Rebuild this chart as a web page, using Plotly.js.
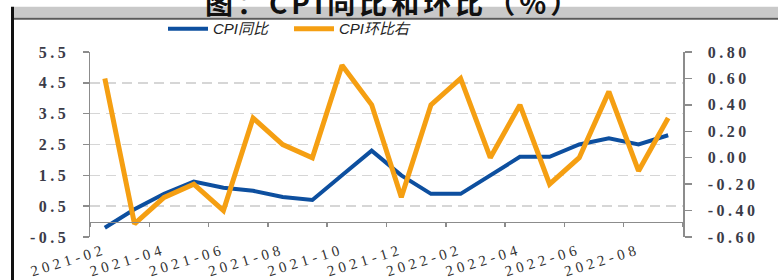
<!DOCTYPE html>
<html>
<head>
<meta charset="utf-8">
<script src="https://cdn.plot.ly/plotly-3.0.1.min.js"></script>
<style>
  html, body { margin: 0; padding: 0; background: #fff; }
  #chart { width: 778px; height: 280px; }
  .xtick text { letter-spacing: 4px; }
  .ytick text, .y2tick text { letter-spacing: 3.5px; }
  .annotation-text { letter-spacing: 4px; }
</style>
</head>
<body>
<div id="chart"></div>
<script>
const months = ['2021-02','2021-03','2021-04','2021-05','2021-06','2021-07','2021-08','2021-09','2021-10','2021-11','2021-12',
                '2022-01','2022-02','2022-03','2022-04','2022-05','2022-06','2022-07','2022-08','2022-09'];
const cpiYoY = [-0.2,0.4,0.9,1.3,1.1,1.0,0.8,0.7,1.5,2.3,1.5,0.9,0.9,1.5,2.1,2.1,2.5,2.7,2.5,2.8];
const cpiMoM = [0.6,-0.5,-0.3,-0.2,-0.4,0.3,0.1,0.0,0.7,0.4,-0.3,0.4,0.6,0.0,0.4,-0.2,0.0,0.5,-0.1,0.3];
const leftTickVals = [-0.5,0.5,1.5,2.5,3.5,4.5,5.5];
const leftTickText = ['-0.5','0.5','1.5','2.5','3.5','4.5','5.5'];
const rightTickVals = [-0.6,-0.4,-0.2,0.0,0.2,0.4,0.6,0.8];
const rightTickText = ['-0.60','-0.40','-0.20','0.00','0.20','0.40','0.60','0.80'];
const seriesNames = ['CPI同比','CPI环比右'];
const titleText = '图：CPI同比和环比（%）';

const leftMin = leftTickVals[0], leftMax = leftTickVals[leftTickVals.length-1];
const rightMin = rightTickVals[0], rightMax = rightTickVals[rightTickVals.length-1];
const catRange = [-0.5, months.length - 0.5];

const W = 778, H = 280, ML = 90, MR = 95, MT = 45, MB = 43;
const pw = W - ML - MR, ph = H - MT - MB;
const px = x => (x - ML) / pw;           // pixel x -> paper
const py = y => (H - MB - y) / ph;       // pixel y -> paper

const axisGrey = '#8c8c8c';
const tickFont = {family: 'Liberation Serif, serif', size: 16, color: '#3b3b48', weight: 'bold'};

const traces = [
  {x: months, y: cpiYoY, name: seriesNames[0], type: 'scatter', mode: 'lines',
   line: {color: '#0d4f9f', width: 4}, xaxis: 'x', yaxis: 'y'},
  {x: months, y: cpiMoM, name: seriesNames[1], type: 'scatter', mode: 'lines',
   line: {color: '#f59f12', width: 5}, xaxis: 'x2', yaxis: 'y2'}
];

const layout = {
  width: W, height: H,
  margin: {l: ML, r: MR, t: MT, b: MB, pad: 0},
  paper_bgcolor: '#ffffff', plot_bgcolor: '#ffffff',
  showlegend: true,
  legend: {orientation: 'h', x: px(163), xanchor: 'left', y: py(21), yanchor: 'middle',
           font: {family: 'Liberation Sans, Noto Sans CJK SC, sans-serif', size: 15, color: '#222', style: 'italic'},
           entrywidth: 71, itemwidth: 40, bgcolor: 'rgba(0,0,0,0)'},
  xaxis: {type: 'category', range: catRange, tickmode: 'linear', tick0: 0, dtick: 2, tickangle: -17,
          showline: false, ticks: '', showgrid: false, zeroline: false,
          ticklabelstandoff: 1,
          tickfont: {family: 'Liberation Serif, serif', size: 15, color: '#333'}},
  xaxis2: {type: 'category', range: catRange, overlaying: 'x', anchor: 'free', position: (0 - leftMin) / (leftMax - leftMin),
           side: 'bottom', tickmode: 'linear', tick0: 0, dtick: 2, tickson: 'boundaries',
           showticklabels: false, ticks: 'outside', ticklen: 4, tickwidth: 1.5, tickcolor: axisGrey,
           showline: true, linecolor: axisGrey, linewidth: 1.5, showgrid: false, zeroline: false},
  yaxis: {range: [leftMin, leftMax], tickmode: 'array', tickvals: leftTickVals, ticktext: leftTickText,
          showline: true, linecolor: axisGrey, linewidth: 1.5, ticks: 'outside', ticklen: 6, tickwidth: 1.5,
          tickcolor: axisGrey, showgrid: true, gridcolor: '#d6d6d6', gridwidth: 1.5, griddash: '10px,6px',
          zeroline: false, ticklabelstandoff: 10, tickfont: tickFont},
  yaxis2: {range: [rightMin, rightMax], overlaying: 'y', side: 'right', anchor: 'x2',
           tickmode: 'array', tickvals: rightTickVals, ticktext: rightTickText,
           showline: true, linecolor: axisGrey, linewidth: 1.5, ticks: 'outside', ticklen: 7, tickwidth: 1.5,
           tickcolor: axisGrey, showgrid: false, zeroline: false, ticklabelstandoff: 13, tickfont: tickFont},
  shapes: [
    {type: 'rect', xref: 'paper', yref: 'paper', x0: px(14), x1: px(W + 2), y0: py(9.5), y1: py(-2),
     fillcolor: '#c9c9c9', line: {width: 0}, layer: 'below'},
    {type: 'line', xref: 'paper', yref: 'paper', x0: px(14), x1: px(W + 2), y0: py(10.5), y1: py(10.5),
     line: {color: '#5a5a5a', width: 2}},
    {type: 'line', xref: 'paper', yref: 'paper', x0: px(12.5), x1: px(12.5), y0: py(H + 2), y1: py(-2),
     line: {color: '#111', width: 3}}
  ],
  annotations: [
    {text: titleText, xref: 'paper', yref: 'paper', x: px(393), y: py(16), xanchor: 'center', yanchor: 'bottom',
     showarrow: false, font: {family: 'Noto Sans CJK SC, sans-serif', size: 28, color: '#111', weight: 'bold'}}
  ]
};

Plotly.newPlot('chart', traces, layout, {displayModeBar: false, staticPlot: true});
</script>
</body>
</html>
